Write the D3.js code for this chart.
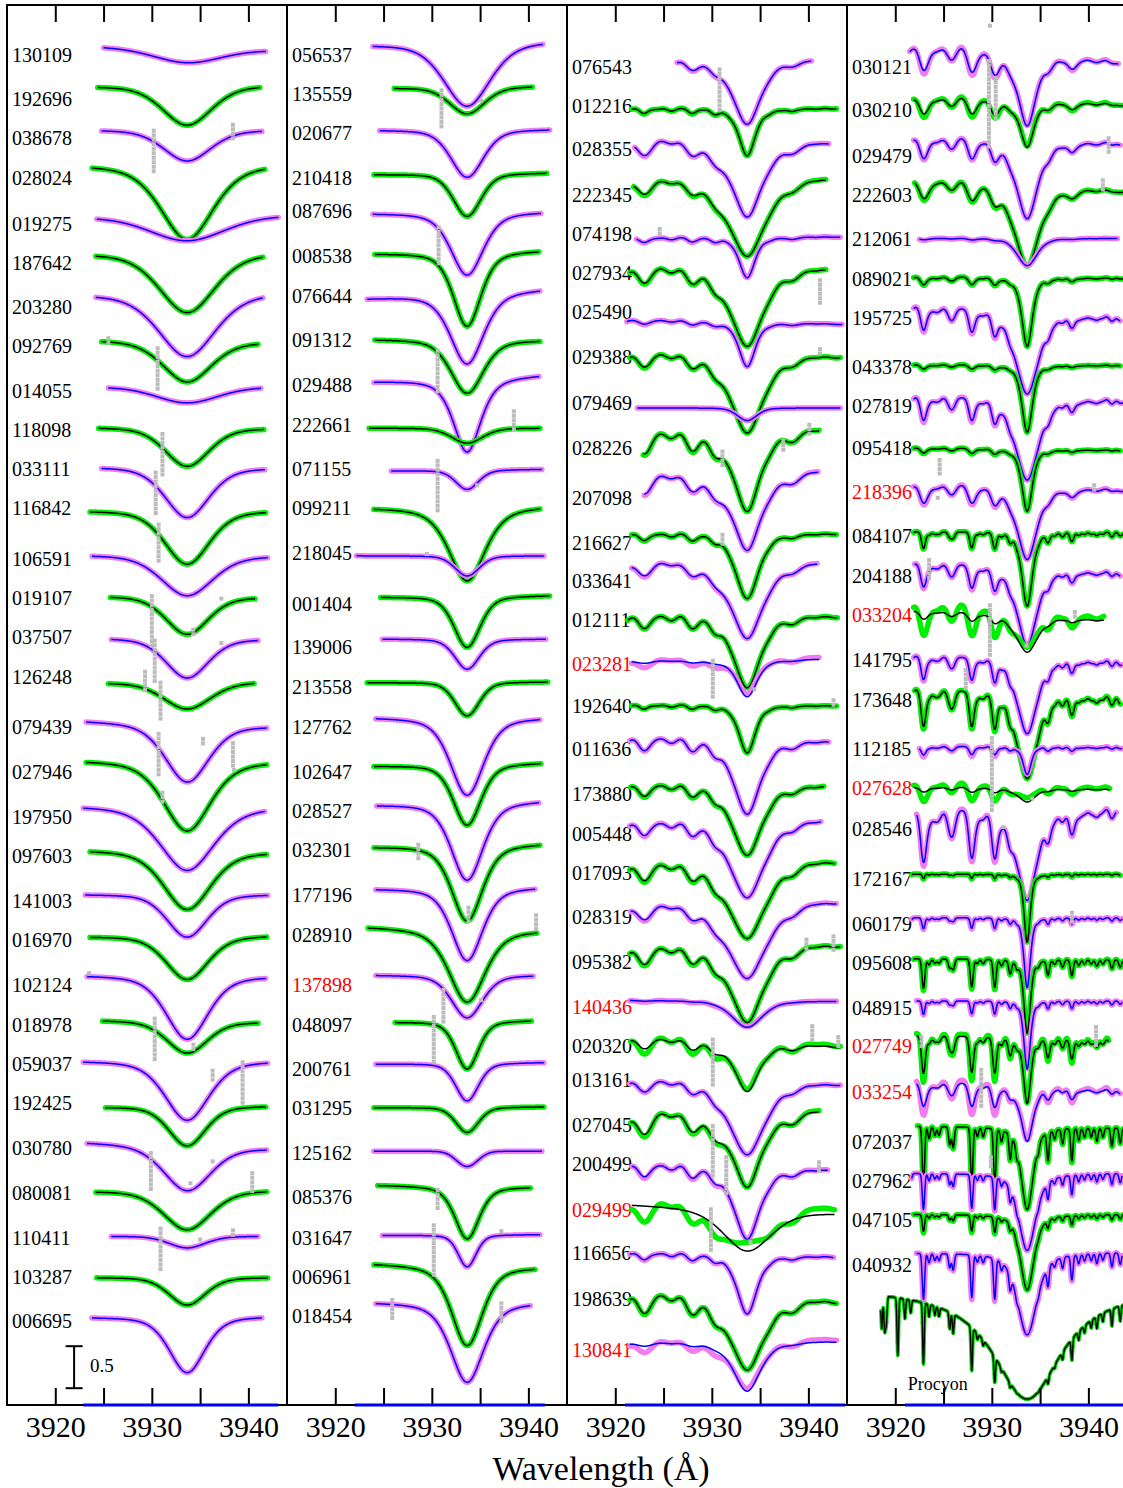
<!DOCTYPE html>
<html><head><meta charset="utf-8">
<script src="https://cdn.jsdelivr.net/npm/d3@7"></script>
<style>body{margin:0;background:#fff}</style>
</head><body>
<svg id="c" width="1123" height="1488" xmlns="http://www.w3.org/2000/svg"></svg>
<script>
// ---------------- data ----------------
const tickValues = [3920, 3925, 3930, 3935, 3940];
const tickLabels = ["3920", "", "3930", "", "3940"];
const xTitle = "Wavelength (Å)";
const caK = 3933.66;
// metal line list: [wavelength, relative strength]
const metalLines = [
  [3916.7,0.4],[3917.2,0.3],[3918.6,0.5],[3918.9,0.5],[3919.07,0.4],[3920.26,0.9],[3921.0,0.3],[3921.6,0.2],
  [3922.92,1.0],[3923.5,0.2],[3924.1,0.15],[3924.53,0.15],[3925.64,0.3],[3926.0,0.35],[3927.92,0.95],
  [3928.5,0.15],[3929.1,0.15],[3930.30,0.95],[3931.0,0.2],[3931.9,0.45],[3932.6,0.2],[3934.8,0.15],
  [3935.82,0.5],[3936.5,0.15],[3937.33,0.25],[3938.29,0.55],[3939.0,0.2],[3939.6,0.15],[3940.3,0.15],
  [3940.88,0.22],[3941.5,0.15],[3942.44,0.3],[3943.3,0.25],[3943.9,0.2]
];
// star rows: [label, continuum offset, tilt, lambda start, lambda end, CaK depth, CaK FWHM, wing fraction, metal(model), metal(observed), metal line sigma]
const stars1 = [
  ["130109",16.17,-0.04,3925.0,3941.8,0.17,8.2,0.2],
  ["192696",15.70,0.01,3924.4,3941.2,0.47,6.0,0.35],
  ["038678",15.18,0,3924.8,3941.4,0.37,5.8,0.35],
  ["028024",14.77,0.01,3923.8,3941.7,0.90,6.5,0.5],
  ["019275",14.14,0.02,3924.3,3943.1,0.29,9.0,0.2],
  ["187642",13.71,0.01,3924.2,3941.5,0.71,6.8,0.4],
  ["203280",13.23,0.02,3924.2,3941.5,0.76,7.0,0.45],
  ["092769",12.68,-0.02,3924.8,3941.0,0.49,6.0,0.4],
  ["014055",12.12,0,3925.5,3941.3,0.19,7.5,0.2],
  ["118098",11.64,-0.01,3924.5,3941.6,0.46,5.4,0.35],
  ["033111",11.17,-0.01,3924.8,3941.7,0.60,5.4,0.4],
  ["116842",10.65,0,3923.6,3941.8,0.64,5.5,0.4],
  ["106591",10.12,-0.01,3923.8,3942.0,0.48,6.3,0.35],
  ["019107",9.63,-0.01,3925.7,3940.7,0.45,5.2,0.35],
  ["037507",9.13,-0.01,3925.8,3941.0,0.47,5.2,0.35],
  ["126248",8.60,0.01,3925.5,3940.6,0.32,5.8,0.35],
  ["079439",8.15,-0.06,3923.2,3941.9,0.70,5.4,0.45],
  ["027946",7.68,-0.01,3923.2,3941.9,0.84,5.8,0.5],
  ["197950",7.14,-0.01,3922.9,3941.7,0.77,6.7,0.5],
  ["097603",6.61,-0.02,3923.6,3941.9,0.70,5.8,0.45],
  ["141003",6.08,0,3923.1,3942.0,0.51,4.9,0.35],
  ["016970",5.58,0.01,3923.6,3941.9,0.52,5.2,0.4],
  ["102124",5.12,-0.01,3923.3,3941.8,0.76,5.2,0.45],
  ["018978",4.58,-0.02,3924.9,3941.0,0.38,5.0,0.35],
  ["059037",4.10,0,3922.9,3942.0,0.71,5.4,0.45],
  ["192425",3.55,0.01,3925.2,3941.8,0.47,4.5,0.35],
  ["030780",3.13,-0.07,3923.3,3941.9,0.54,5.8,0.4],
  ["080081",2.55,0.01,3924.2,3941.9,0.47,5.8,0.4],
  ["110411",2.01,0,3925.8,3941.0,0.14,4.5,0.3],
  ["103287",1.52,0,3924.3,3942.0,0.33,4.5,0.35],
  ["006695",1.05,0.01,3923.8,3941.4,0.67,4.4,0.45]
];
const stars2 = [
  ["056537",16.20,0.04,3923.9,3941.5,0.76,5.7,0.45],
  ["135559",15.68,0.02,3926.1,3940.4,0.32,4.3,0.35],
  ["020677",15.18,0.01,3924.6,3942.2,0.57,4.0,0.4],
  ["210418",14.65,0.02,3924.0,3941.9,0.51,3.4,0.35],
  ["087696",14.19,0.02,3923.9,3941.3,0.75,4.0,0.5],
  ["008538",13.71,0.04,3924.1,3941.1,0.89,3.4,0.5],
  ["076644",13.18,0.11,3923.3,3941.2,0.85,4.1,0.5],
  ["091312",12.69,-0.01,3924.1,3941.2,0.64,4.0,0.45],
  ["029488",12.19,0.08,3924.0,3941.1,0.89,3.4,0.6],
  ["222661",11.63,0,3923.5,3941.2,0.18,3.8,0.3],
  ["071155",11.12,0.02,3925.8,3941.4,0.23,2.8,0.3],
  ["099211",10.69,0.02,3924.0,3941.2,0.89,4.5,0.6],
  ["218045",10.11,0,3922.2,3941.6,0.24,3.0,0.3],
  ["001404",9.62,0.02,3924.7,3942.2,0.61,3.2,0.4],
  ["139006",9.12,0,3924.9,3941.8,0.36,3.0,0.35],
  ["213558",8.60,0.01,3923.3,3942.0,0.40,3.0,0.3],
  ["127762",8.19,0,3924.2,3941.2,0.93,4.1,0.5],
  ["102647",7.61,0.04,3924.0,3941.3,0.73,3.4,0.45],
  ["028527",7.15,0.05,3924.3,3941.1,0.93,3.9,0.5],
  ["032301",6.65,0.04,3924.0,3941.2,0.91,3.8,0.5],
  ["177196",6.15,0.02,3924.2,3940.7,0.87,3.8,0.5],
  ["028910",5.70,-0.04,3923.4,3940.9,0.88,4.5,0.55],
  ["137898",5.12,0,3924.2,3940.5,0.51,3.8,0.4],
  ["048097",4.56,0.02,3926.2,3940.3,0.57,2.8,0.4],
  ["200761",4.06,0.02,3924.2,3941.6,0.45,2.8,0.35],
  ["031295",3.54,0.01,3924.0,3941.6,0.30,2.8,0.3],
  ["125162",3.02,0,3924.0,3941.4,0.18,2.6,0.0],
  ["085376",2.62,-0.02,3924.4,3940.2,0.63,3.0,0.5],
  ["031647",2.02,0.01,3924.9,3941.2,0.38,2.2,0.3],
  ["006961",1.69,-0.04,3924.0,3940.7,0.96,3.8,0.55],
  ["018454",1.23,0,3924.2,3940.2,0.96,4.1,0.55]
];
const stars3 = [
  ["076543",16.01,0.01,3926.4,3940.3,0.78,3.3,0.5,0.15,0.17,0.7],
  ["012216",15.43,0.01,3921.7,3942.9,0.57,2.0,0.6,0.06,0.07,0.4],
  ["028355",15.10,-0.06,3922.0,3942.1,0.93,3.7,0.6,0.28,0.3,0.8],
  ["222345",14.62,0,3921.9,3941.8,0.95,4.4,0.6,0.25,0.28,0.8],
  ["074198",13.89,0.02,3922.2,3943.3,0.49,1.9,0.45,0.06,0.07,0.5],
  ["027934",13.56,-0.02,3921.5,3941.8,0.95,3.9,0.6,0.25,0.27,0.7],
  ["025490",12.92,-0.05,3921.2,3943.5,0.54,2.0,0.45,0.06,0.07,0.6],
  ["029388",12.54,-0.04,3921.5,3943.3,0.95,3.9,0.6,0.22,0.24,0.7],
  ["079469",11.87,0,3922.3,3943.3,0.15,2.4,0.3,0,0,0.5],
  ["028226",11.58,0.04,3922.9,3941.1,0.97,3.2,0.55,0.33,0.36,0.7],
  ["207098",11.10,0.03,3923.0,3941.0,0.95,3.5,0.6,0.33,0.36,0.8],
  ["216627",10.37,0.01,3921.7,3942.9,0.78,2.8,0.5,0.09,0.1,0.5],
  ["033641",10.06,-0.02,3921.7,3940.9,0.93,3.9,0.6,0.24,0.27,0.8],
  ["012111",9.40,0,3921.3,3943.0,0.87,3.2,0.55,0.19,0.2,0.6],
  ["023281",8.86,0.02,3921.7,3941.1,0.45,2.4,0.45,0.04,0.14,0.8],
  ["192640",8.33,0,3921.7,3942.9,0.57,2.0,0.5,0.05,0.05,0.4],
  ["011636",7.95,-0.04,3921.5,3942.1,0.90,3.2,0.55,0.19,0.2,0.6],
  ["173880",7.39,-0.01,3921.6,3941.6,0.85,3.5,0.55,0.17,0.19,0.6],
  ["005448",6.94,0.04,3921.5,3941.3,0.93,4.1,0.6,0.19,0.21,0.6],
  ["017093",6.46,0.03,3921.5,3942.7,0.93,4.4,0.6,0.27,0.3,0.7],
  ["028319",5.99,0.02,3921.6,3942.9,0.93,4.6,0.6,0.26,0.29,0.8],
  ["095382",5.46,0.03,3921.5,3943.3,0.93,3.9,0.6,0.27,0.3,0.7],
  ["140436",4.82,-0.01,3921.5,3942.9,0.32,3.7,0.45,0.01,0.03,0.7],
  ["020320",4.38,-0.11,3921.6,3943.3,0.61,2.8,0.5,0.17,0.28,0.7],
  ["013161",3.89,-0.05,3921.5,3943.3,0.89,4.2,0.6,0.19,0.2,0.7],
  ["027045",3.51,0,3921.6,3941.1,0.93,3.5,0.6,0.38,0.44,0.8],
  ["200499",2.87,-0.06,3921.7,3942.0,0.87,3.1,0.55,0.18,0.21,0.6],
  ["029499",2.39,-0.1,3921.7,3942.7,0.50,5.9,0.45,0.0,0.36,0.8],
  ["116656",1.81,-0.04,3921.5,3942.6,0.71,2.4,0.5,0.09,0.1,0.5],
  ["198639",1.35,-0.1,3921.5,3942.9,0.89,3.9,0.6,0.32,0.34,0.7],
  ["130841",0.75,0.01,3921.5,3942.9,0.60,3.2,0.5,0.06,0.2,0.8]
];
const stars4 = [
  ["030121",16.15,-0.15,3921.5,3943.1,0.85,2.2,0.55,0.3,0.36,0.45],
  ["030210",15.54,-0.05,3921.9,3943.6,0.56,1.7,0.5,0.2,0.26,0.45],
  ["029479",15.06,-0.02,3921.9,3943.3,0.93,2.6,0.6,0.25,0.27,0.4],
  ["222603",14.57,-0.1,3922.0,3943.6,0.96,3.0,0.6,0.24,0.27,0.5],
  ["212061",13.89,0,3922.5,3943.0,0.33,2.4,0.4,0.02,0.03,0.5],
  ["089021",13.42,0,3921.9,3943.6,0.82,1.3,0.55,0.09,0.1,0.3],
  ["195725",13.06,-0.1,3921.9,3943.3,0.97,2.8,0.6,0.28,0.31,0.3],
  ["043378",12.38,0,3921.9,3943.3,0.80,1.3,0.55,0.05,0.06,0.3],
  ["027819",11.98,0,3921.9,3943.6,0.97,2.8,0.6,0.28,0.31,0.3],
  ["095418",11.39,-0.02,3921.9,3943.3,0.74,1.3,0.55,0.06,0.07,0.3],
  ["218396",10.93,-0.02,3921.9,3943.6,0.86,2.4,0.55,0.22,0.25,0.4],
  ["084107",10.39,0,3921.9,3943.6,0.88,1.3,0.55,0.2,0.21,0.2],
  ["204188",10.00,-0.08,3922.0,3943.3,0.92,2.4,0.6,0.28,0.31,0.3],
  ["033204",9.45,-0.1,3921.9,3941.6,0.44,2.5,0.5,0.1,0.38,0.4],
  ["141795",8.90,-0.04,3921.9,3943.5,0.89,2.4,0.6,0.28,0.3,0.25],
  ["173648",8.49,-0.06,3922.0,3943.3,1.0,2.4,0.6,0.44,0.48,0.25],
  ["112185",7.83,0,3922.5,3943.5,0.33,1.0,0.4,0.1,0.13,0.25],
  ["027628",7.35,-0.02,3921.9,3942.2,0.17,2.0,0.4,0.06,0.22,0.4],
  ["028546",7.00,0.1,3922.2,3942.9,1.05,2.4,0.65,0.6,0.66,0.3],
  ["172167",6.32,0,3921.7,3943.3,0.81,0.75,0.55,0.05,0.06,0.12],
  ["060179",5.80,0,3921.7,3943.5,0.83,0.8,0.55,0.13,0.14,0.15],
  ["095608",5.31,-0.01,3921.9,3943.6,0.88,0.8,0.55,0.35,0.38,0.15],
  ["048915",4.81,0,3922.2,3943.5,0.81,0.8,0.55,0.16,0.17,0.15],
  ["027749",4.38,-0.04,3922.2,3942.1,0.77,0.9,0.55,0.45,0.58,0.2],
  ["033254",3.81,-0.06,3922.2,3943.3,0.65,1.5,0.55,0.28,0.42,0.3],
  ["072037",3.32,-0.02,3922.3,3943.6,0.98,1.5,0.6,0.72,0.76,0.12],
  ["027962",2.76,0,3921.7,3943.5,0.92,2.1,0.6,0.43,0.45,0.12],
  ["047105",2.27,0,3921.9,3943.6,0.90,1.7,0.6,0.2,0.22,0.12],
  ["040932",1.81,0.01,3922.2,3943.5,0.98,2.4,0.65,0.55,0.58,0.12],
  ["Procyon",1.40,0,3918.5,3943.6,1.33,8.6,1.0,0.85,0.85,0.08]
];
// vertical level (flux units) of each star label, per panel
const labelLevels1 = [16.07,15.55,15.08,14.61,14.06,13.60,13.07,12.61,12.07,11.61,11.14,10.68,10.07,9.61,9.14,8.67,8.07,7.54,7.00,6.54,6.00,5.54,5.00,4.52,4.06,3.60,3.06,2.52,1.99,1.52,1.00];
const labelLevels2 = [16.07,15.61,15.14,14.61,14.21,13.68,13.20,12.68,12.14,11.67,11.14,10.68,10.14,9.54,9.02,8.55,8.07,7.54,7.07,6.61,6.07,5.60,5.00,4.52,4.00,3.54,3.00,2.48,1.99,1.52,1.06];
const labelLevels3 = [15.93,15.46,14.95,14.40,13.94,13.48,13.01,12.48,11.93,11.39,10.80,10.26,9.81,9.35,8.82,8.32,7.81,7.27,6.80,6.33,5.81,5.27,4.74,4.27,3.87,3.33,2.87,2.32,1.81,1.26,0.65];
const labelLevels4 = [15.93,15.42,14.87,14.40,13.88,13.40,12.94,12.36,11.89,11.39,10.87,10.35,9.87,9.40,8.87,8.39,7.81,7.35,6.86,6.26,5.73,5.26,4.73,4.27,3.73,3.13,2.67,2.20,1.67,0.26];
const redLabels = ["137898","023281","140436","029499","130841","218396","033204","027628","027749","033254"];
// masked (grey) pixels: [panel, wavelength, flux top, flux bottom]
const masked = [
  [0,3930.2,15.17,14.65],[0,3938.4,15.24,15.06],[0,3925.5,12.70,12.62],[0,3930.6,12.58,12.06],
  [0,3931.1,11.56,11.06],[0,3930.4,11.10,10.60],[0,3930.7,10.48,10.00],[0,3930.0,9.63,8.99],
  [0,3934.3,9.23,9.13],[0,3937.2,9.60,9.56],[0,3930.3,9.10,8.60],[0,3937.2,9.07,9.02],
  [0,3929.3,8.73,8.51],[0,3930.9,8.60,8.15],[0,3935.3,7.93,7.85],[0,3930.7,7.99,7.48],
  [0,3938.4,7.88,7.61],[0,3931.1,7.29,7.15],[0,3938.5,7.56,7.52],[0,3923.5,5.14,5.10],
  [0,3930.3,4.60,4.08],[0,3934.3,4.29,4.19],[0,3936.3,3.98,3.83],[0,3939.4,4.08,3.57],
  [0,3929.9,3.00,2.55],[0,3934.0,2.64,2.60],[0,3936.3,2.90,2.86],[0,3940.4,2.76,2.51],
  [0,3930.9,2.10,1.57],[0,3935.0,1.97,1.93],[0,3938.4,2.08,2.02],
  [1,3931.0,15.65,15.19],[1,3935.1,15.53,15.48],[1,3930.7,14.02,13.56],[1,3930.6,12.55,12.05],
  [1,3938.5,11.83,11.58],[1,3930.6,11.24,10.65],[1,3934.7,10.95,10.91],[1,3929.5,10.13,10.09],
  [1,3928.6,6.67,6.51],[1,3933.8,5.92,5.73],[1,3940.8,5.83,5.63],[1,3931.2,4.94,4.55],
  [1,3935.1,4.82,4.78],[1,3930.2,4.62,4.05],[1,3930.6,2.56,2.32],[1,3930.2,2.14,1.55],
  [1,3937.2,2.07,2.03],[1,3925.9,1.25,1.01],[1,3937.2,1.21,0.98],
  [2,3930.8,15.90,15.39],[2,3924.6,14.00,13.90],[2,3941.2,13.39,13.12],[2,3941.2,12.57,12.49],
  [2,3931.1,11.35,11.15],[2,3937.4,11.48,11.37],[2,3940.1,11.67,11.54],[2,3931.1,10.36,10.24],
  [2,3930.1,8.86,8.39],[2,3934.4,8.52,8.48],[2,3942.6,8.39,8.33],[2,3939.8,5.54,5.42],
  [2,3942.6,5.58,5.38],[2,3930.1,4.35,3.81],[2,3940.4,4.51,4.30],[2,3943.1,4.38,4.27],
  [2,3930.1,3.32,2.73],[2,3931.5,2.95,2.51],[2,3941.1,2.89,2.76],[2,3929.9,2.33,1.81],
  [2,3934.0,1.94,1.90],
  [3,3929.7,16.00,14.94],[3,3930.4,15.80,15.30],[3,3929.8,16.42,16.40],[3,3942.1,15.08,14.90],
  [3,3941.5,14.58,14.44],[3,3924.6,11.25,11.07],[3,3924.4,10.80,10.78],[3,3940.6,10.95,10.89],
  [3,3923.5,10.06,9.82],[3,3929.8,9.52,8.93],[3,3933.6,9.04,9.00],[3,3938.6,9.44,9.35],
  [3,3927.3,8.75,8.51],[3,3930.0,7.94,7.05],[3,3931.2,6.88,6.84],[3,3934.2,7.22,7.18],
  [3,3938.3,5.86,5.71],[3,3922.7,4.38,4.27],[3,3928.9,3.99,3.51],[3,3940.8,4.50,4.27],
  [3,3929.9,2.95,2.80]
];
// blue zero-flux lines at the bottom of each panel: [panel, start, end]
const baseLines = [[0,3922.9,3943.1],[1,3922.0,3941.7],[2,3921.0,3943.8],[3,3921.0,3944.0]];
const scaleBar = [0.2, 0.7];
const scaleBarLabel = "0.5";

// ---------------- drawing ----------------
const svg = d3.select("#c");
const FONT = "'Liberation Serif','Times New Roman',Times,serif";
const TOP = 5, BOTTOM = 1405, PW = 280;
const yS = d3.scaleLinear().domain([0, 1400/84]).range([BOTTOM, TOP]);
const panels = [stars1, stars2, stars3, stars4];
const labelLevels = [labelLevels1, labelLevels2, labelLevels3, labelLevels4];

function caProfile(l, d, fw, wing) {
  const u = 2 * (l - caK) / fw;
  return d * ((1 - wing) * Math.exp(-Math.LN2 * u * u) + wing / (1 + u * u));
}
function metalTemplate(l, s) {
  let t = 0;
  for (const [c, w] of metalLines) {
    const z = (l - c) / s;
    if (Math.abs(z) < 5) t += w * Math.exp(-0.5 * z * z);
  }
  return t;
}
// returns [observed, model] point arrays
function spectra(st) {
  const [lab, o, tilt, lo, hi, d, fw, wing, mm = 0, mo = 0, sg = 0.5] = st;
  const step = sg < 0.2 ? 0.025 : 0.05;
  const ls = d3.range(lo, hi + 1e-9, step);
  const M = ls.map(l => metalTemplate(l, sg));
  const sorted = M.slice().sort(d3.ascending);
  const q = d3.quantileSorted(sorted, 0.2);
  const mean = d3.mean(M);
  const obs = [], mod = [];
  ls.forEach((l, k) => {
    const c = caProfile(l, d, fw, wing);
    const fac = 1 - c / Math.max(d, 1);
    const base = o + tilt * (l - lo) / (hi - lo) - c;
    const fm = base - mm * (M[k] - q) * fac;
    const fo = fm - (mo - mm) * (M[k] - mean) * fac;
    mod.push([l, fm]); obs.push([l, fo]);
  });
  return [obs, mod];
}

panels.forEach((stars, p) => {
  const x0 = 7 + PW * p;
  const xs = d3.scaleLinear().domain([3915, 3944]).range([x0, x0 + PW]);
  const clipId = "clip" + p;
  svg.append("clipPath").attr("id", clipId)
    .append("rect").attr("x", x0).attr("y", TOP).attr("width", PW).attr("height", BOTTOM - TOP);
  const g = svg.append("g").attr("clip-path", `url(#${clipId})`);
  const line = d3.line().x(d => xs(d[0])).y(d => yS(d[1]));

  // labels
  stars.forEach((st, i) => {
    if (st[0] === "Procyon") return;
    g.append("text").attr("x", x0 + 5).attr("y", yS(labelLevels[p][i]) + 7)
      .attr("font-family", FONT).attr("font-size", 20)
      .attr("fill", redLabels.includes(st[0]) ? "#ff0000" : "#000")
      .text(st[0]);
  });

  // observed (thick) and model (thin)
  stars.forEach((st, i) => {
    const pink = i % 2 === 0;
    const [obs, mod] = spectra(st);
    if (st[0] === "Procyon") {
      g.append("path").attr("d", line(obs)).attr("fill", "none")
        .attr("stroke", "#00e000").attr("stroke-width", 3.5).attr("stroke-linejoin", "round");
      g.append("g").selectAll("circle").data(obs.filter((d, k) => k % 4 === 0)).join("circle")
        .attr("cx", d => xs(d[0])).attr("cy", d => yS(d[1])).attr("r", 1.8).attr("fill", "#00d000");
      g.append("path").attr("d", line(mod)).attr("fill", "none")
        .attr("stroke", "#000").attr("stroke-width", 1.4);
      g.append("text").attr("x", xs(3921.3)).attr("y", yS(labelLevels[p][i]) + 7)
        .attr("font-family", FONT).attr("font-size", 18).text(st[0]);
      return;
    }
    g.append("path").attr("d", line(obs)).attr("fill", "none")
      .attr("stroke", pink ? "#f07cf0" : "#00ee00").attr("stroke-width", 5.5)
      .attr("stroke-linejoin", "round").attr("stroke-linecap", "round");
    g.append("path").attr("d", line(mod)).attr("fill", "none")
      .attr("stroke", pink ? "#0000ff" : "#000000").attr("stroke-width", 1.5)
      .attr("stroke-linejoin", "round");
  });

  // masked pixels
  masked.filter(m => m[0] === p).forEach(([pp, l, f1, f2]) => {
    const ya = yS(f1), yb = yS(f2);
    for (let yy = ya; yy <= yb + 0.1; yy += 4.5) {
      g.append("rect").attr("x", xs(l) - 2).attr("y", yy - 2)
        .attr("width", 4).attr("height", 4).attr("fill", "#bcbcbc");
    }
  });

  // frame
  svg.append("rect").attr("x", x0).attr("y", TOP).attr("width", PW).attr("height", BOTTOM - TOP)
    .attr("fill", "none").attr("stroke", "#000").attr("stroke-width", 2);

  // axes
  const axB = svg.append("g").attr("transform", `translate(0,${BOTTOM})`)
    .call(d3.axisBottom(xs).tickValues(tickValues).tickSize(-17).tickPadding(11)
      .tickFormat((d, i) => tickLabels[i]));
  axB.select(".domain").remove();
  axB.selectAll("line").attr("stroke-width", 2);
  axB.selectAll("text").attr("font-family", FONT).attr("font-size", 30);
  const axT = svg.append("g").attr("transform", `translate(0,${TOP})`)
    .call(d3.axisTop(xs).tickValues(tickValues).tickSize(-17).tickFormat(""));
  axT.select(".domain").remove();
  axT.selectAll("line").attr("stroke-width", 2);

  // blue baseline
  const bl = baseLines.find(b => b[0] === p);
  svg.append("line").attr("x1", xs(bl[1])).attr("x2", Math.min(xs(bl[2]), 1123))
    .attr("y1", yS(0)).attr("y2", yS(0)).attr("stroke", "#0000ee").attr("stroke-width", 3);

  // scale bar in first panel
  if (p === 0) {
    const bx = xs(3921.95);
    const sb = svg.append("g").attr("stroke", "#000").attr("stroke-width", 2);
    sb.append("line").attr("x1", bx).attr("x2", bx).attr("y1", yS(scaleBar[0])).attr("y2", yS(scaleBar[1]));
    sb.append("line").attr("x1", bx - 8.5).attr("x2", bx + 8.5).attr("y1", yS(scaleBar[0])).attr("y2", yS(scaleBar[0]));
    sb.append("line").attr("x1", bx - 8.5).attr("x2", bx + 8.5).attr("y1", yS(scaleBar[1])).attr("y2", yS(scaleBar[1]));
    svg.append("text").attr("x", xs(3923.6)).attr("y", 1372).attr("font-family", FONT)
      .attr("font-size", 19).text(scaleBarLabel);
  }
});

svg.append("text").attr("x", 601).attr("y", 1480).attr("text-anchor", "middle")
  .attr("font-family", FONT).attr("font-size", 34).text(xTitle);
</script>
</body></html>
